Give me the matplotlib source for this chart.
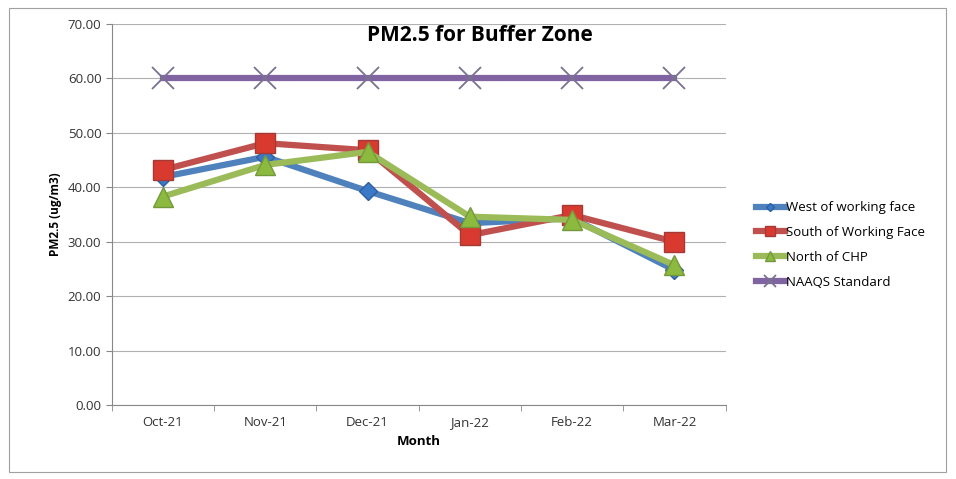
import matplotlib.pyplot as plt
import numpy as np

# datos
months = ["Oct-21", "Nov-21", "Dec-21", "Jan-22", "Feb-22", "Mar-22"]
west = [41.9, 45.6, 39.3, 33.4, 34.3, 24.8]
south = [43.2, 48.1, 46.8, 31.2, 34.9, 30.0]
north = [38.3, 44.1, 46.5, 34.6, 34.0, 25.7]
naaqs = [60.0, 60.0, 60.0, 60.0, 60.0, 60.0]

plt.rcParams['font.family'] = ['Open Sans', 'DejaVu Sans']

fig = plt.figure(figsize=(9.56, 4.79), dpi=100)
ax = fig.add_axes([0.117, 0.1545, 0.642, 0.7955])

# marco exterior del grafico
fig.patches.append(plt.Rectangle((0.009, 0.015), 0.981, 0.968, transform=fig.transFigure,
                                 fill=False, edgecolor="#a0a0a0", linewidth=0.8))

x = np.arange(len(months))
ax.plot(x, west, color="#4F81BD", linewidth=4.5, marker="D", markersize=9,
        markerfacecolor="#3a78c8", markeredgecolor="#2e5f9e", label="West of working face")
ax.plot(x, south, color="#C0504D", linewidth=4.5, marker="s", markersize=15,
        markerfacecolor="#d83a30", markeredgecolor="#a33a36", label="South of Working Face")
ax.plot(x, north, color="#9BBB59", linewidth=4.5, marker="^", markersize=15,
        markerfacecolor="#8cba3e", markeredgecolor="#74993d", label="North of CHP")
ax.plot(x, naaqs, color="#8064A2", linewidth=4.5, marker="x", markersize=16,
        markeredgewidth=1.3, markeredgecolor="#7a7090", label="NAAQS Standard")

ax.set_xlim(-0.5, len(months) - 0.5)
ax.set_ylim(0, 70)
ax.set_yticks(np.arange(0, 71, 10))
ax.set_yticklabels([f"{v:.2f}" for v in np.arange(0, 71, 10)], fontsize=9.5, color="#333333")
ax.set_xticks(x)
ax.set_xticklabels(months, fontsize=9.5, color="#333333")
# marcas entre categorias
ax.set_xticks(np.arange(len(months) + 1) - 0.5, minor=True)
ax.tick_params(axis="x", which="minor", length=4, color="#888888")
ax.tick_params(axis="y", length=4, color="#888888")
ax.tick_params(axis="x", which="major", length=0, pad=8)

ax.grid(axis="y", color="#b0b0b0", linewidth=0.8)
ax.set_axisbelow(True)
for side in ["top", "right"]:
    ax.spines[side].set_visible(False)
ax.spines["left"].set_color("#888888")
ax.spines["bottom"].set_color("#888888")

ax.set_xlabel("Month", fontsize=9.5, fontweight="bold", labelpad=4)
ax.set_ylabel("PM2.5 (ug/m3)", fontsize=8.5, fontweight="bold")
fig.text(0.502, 0.915, "PM2.5 for Buffer Zone", fontsize=15, fontweight="bold", ha="center")

ax.legend(loc="center left", bbox_to_anchor=(1.03, 0.42), frameon=False, fontsize=9.5,
          handlelength=2.2, handletextpad=0.1, labelspacing=0.9, markerscale=0.5)

plt.savefig("out.png", dpi=100)
